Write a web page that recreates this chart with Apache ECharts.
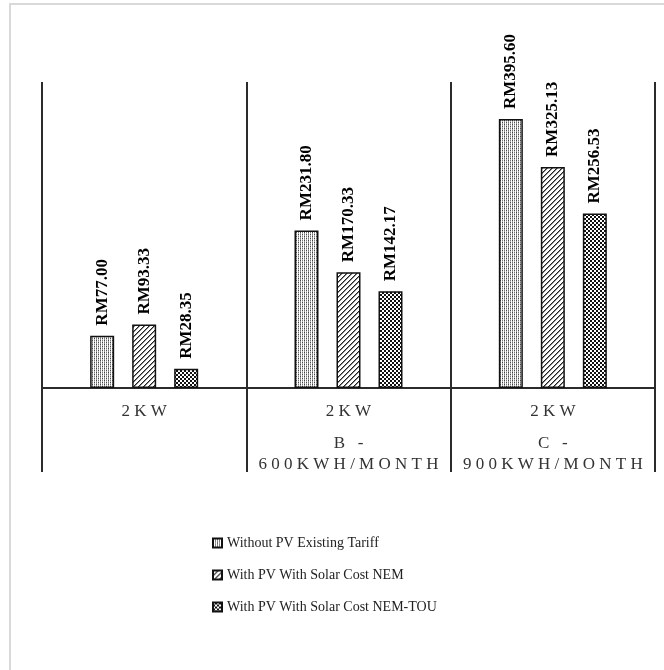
<!DOCTYPE html>
<html>
<head>
<meta charset="utf-8">
<script src="https://cdn.jsdelivr.net/npm/echarts@6/dist/echarts.min.js"></script>
<style>
  html, body { margin: 0; padding: 0; background: #fff; }
  #chart { width: 664px; height: 670px; }
</style>
</head>
<body>
<div id="chart"></div>
<script>
// ---- data ----
const capacity = ['2KW', '2KW', '2KW'];
const tariffs = ['', 'B -', 'C -'];
const usage = ['', '600KWH/MONTH', '900KWH/MONTH'];
const seriesNames = ['Without PV Existing Tariff', 'With PV With Solar Cost NEM', 'With PV With Solar Cost NEM-TOU'];
const withoutPV = [77.00, 231.80, 395.60];
const withNEM = [93.33, 170.33, 325.13];
const withNEMTOU = [28.35, 142.17, 256.53];
const yMin = 0;
const yMax = 450;

// ---- patterns ----
function makeTile(w, h, draw) {
  const c = document.createElement('canvas');
  c.width = w; c.height = h;
  const ctx = c.getContext('2d');
  draw(ctx, w, h);
  return c;
}
const dotTile = makeTile(4, 4, (ctx) => {
  ctx.fillStyle = '#fff'; ctx.fillRect(0, 0, 4, 4);
  ctx.fillStyle = '#444'; ctx.fillRect(0, 0, 1, 1); ctx.fillRect(2, 2, 1, 1);
  ctx.fillStyle = '#777'; ctx.fillRect(0, 2, 1, 1); ctx.fillRect(2, 0, 1, 1);
  ctx.fillStyle = '#999'; ctx.fillRect(0, 1, 1, 1); ctx.fillRect(0, 3, 1, 1);
  ctx.fillStyle = '#bbb'; ctx.fillRect(2, 1, 1, 1); ctx.fillRect(2, 3, 1, 1);
});
const diagTile = makeTile(5, 5, (ctx) => {
  ctx.fillStyle = '#fff'; ctx.fillRect(0, 0, 5, 5);
  ctx.fillStyle = '#222';
  for (let i = 0; i < 5; i++) ctx.fillRect(i, 4 - i, 1, 1);
  ctx.fillStyle = '#888';
  for (let i = 0; i < 5; i++) ctx.fillRect(i, (5 - i) % 5, 1, 1);
});
const checkTile = makeTile(4, 4, (ctx) => {
  ctx.fillStyle = '#111'; ctx.fillRect(0, 0, 4, 4);
  ctx.fillStyle = '#fff'; ctx.fillRect(0, 0, 2, 2); ctx.fillRect(2, 2, 2, 2);
});
const patterns = [
  { image: dotTile, repeat: 'repeat' },
  { image: diagTile, repeat: 'repeat' },
  { image: checkTile, repeat: 'repeat' }
];

const spaced = s => s.split('').join(' ');
const categories = capacity.map((c, i) => [c, tariffs[i], usage[i]].filter(Boolean).join('\n'));

const chart = echarts.init(document.getElementById('chart'), null, { renderer: 'canvas' });

const lineColor = '#2b2b2b';
const serif = 'Liberation Serif';

function makeSeries(name, data, idx) {
  return {
    name: name,
    type: 'bar',
    data: data,
    barWidth: 24,
    barGap: '75%',
    itemStyle: {
      color: patterns[idx],
      borderColor: '#111',
      borderWidth: 1.5
    },
    label: {
      show: true,
      position: 'top',
      rotate: 90,
      align: 'left',
      verticalAlign: 'middle',
      distance: 10,
      fontFamily: serif,
      fontWeight: 'bold',
      fontSize: 17,
      color: '#000',
      formatter: p => 'RM' + p.value.toFixed(2)
    }
  };
}

chart.setOption({
  animation: false,
  backgroundColor: '#fff',
  graphic: [{
    type: 'rect',
    shape: { x: 10, y: 4, width: 700, height: 700 },
    style: { fill: 'none', stroke: '#d9d9d9', lineWidth: 2 },
    silent: true
  }],
  grid: { left: 42, right: 9, top: 82, bottom: 282 },
  legend: {
    orient: 'vertical',
    left: 212,
    top: 536,
    padding: 0,
    itemWidth: 9,
    itemHeight: 9,
    itemGap: 18,
    icon: 'rect',
    textStyle: { fontFamily: serif, fontSize: 14, color: '#222' },
    data: seriesNames
  },
  xAxis: {
    type: 'category',
    data: categories,
    axisLine: { lineStyle: { color: lineColor, width: 2 } },
    axisTick: { show: true, interval: 0, length: 84, lineStyle: { color: lineColor, width: 2 } },
    splitLine: { show: true, interval: 0, lineStyle: { color: lineColor, width: 2 } },
    axisLabel: {
      interval: 0,
      margin: 3,
      formatter: (v) => {
        const parts = v.split('\n');
        let out = '{a|' + spaced(parts[0]) + '}';
        for (let i = 1; i < parts.length; i++) out += '\n{b|' + spaced(parts[i]) + '}';
        return out;
      },
      rich: {
        a: { fontFamily: serif, fontSize: 17, color: '#333', lineHeight: 42 },
        b: { fontFamily: serif, fontSize: 17, color: '#333', lineHeight: 21 }
      }
    }
  },
  yAxis: { type: 'value', min: yMin, max: yMax, show: false },
  series: [
    makeSeries(seriesNames[0], withoutPV, 0),
    makeSeries(seriesNames[1], withNEM, 1),
    makeSeries(seriesNames[2], withNEMTOU, 2)
  ]
});
</script>
</body>
</html>
